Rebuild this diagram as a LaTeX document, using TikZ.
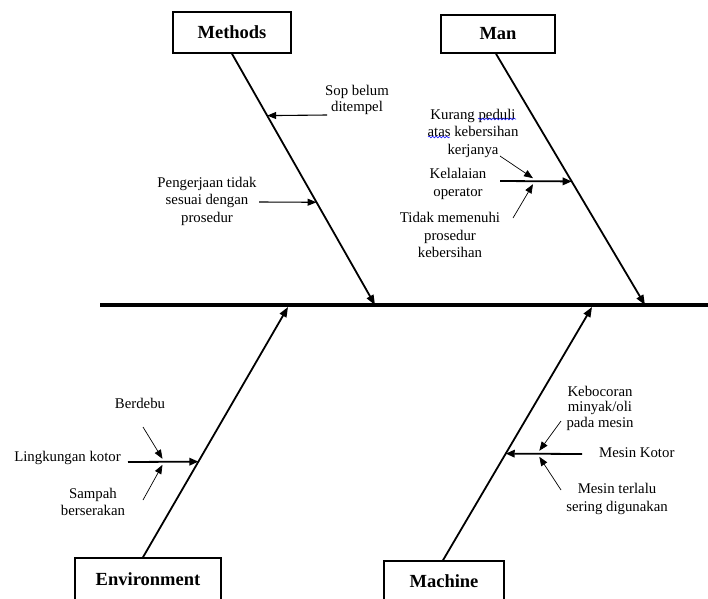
\documentclass[tikz,border=0pt]{standalone}
\usepackage{fontspec}
\setmainfont{Liberation Serif}
\usetikzlibrary{arrows.meta,calc,decorations.pathmorphing}

\tikzset{
  catbox/.style={draw, line width=1.6pt, inner sep=0pt,
    font=\fontsize{18.5}{20}\selectfont\bfseries},
  cause/.style={align=center, inner sep=0pt, font=\fontsize{14.8}{17.5}\selectfont},
  spine/.style={line width=3.5pt},
  bone/.style={line width=1.8pt, -{Triangle[length=10pt,width=7.5pt]}},
  branch/.style={line width=1.1pt, -{Triangle[length=9pt,width=7pt]}},
  twig/.style={line width=1.8pt, -{Triangle[length=9pt,width=7.5pt]}},
  leaf/.style={line width=0.7pt, -{Triangle[length=9pt,width=7pt]}},
  spell/.style={blue, line width=0.5pt, decorate,
    decoration={snake, amplitude=0.9pt, segment length=3.5pt}}
}

\begin{document}
\begin{tikzpicture}[x=1pt,y=-1pt]

    \useasboundingbox (0,0) rectangle (708,598);

    %head boxes
    \node[catbox, minimum width=118pt, minimum height=41pt] (methods) at (232,32.5) {Methods};
    \node[catbox, minimum width=114pt, minimum height=38pt] (man) at (498,34) {Man};
    \node[catbox, minimum width=146pt, minimum height=42pt] (env) at (148,579) {Environment};
    \node[catbox, minimum width=120pt, minimum height=40pt] (machine) at (444,581) {Machine};

    %spine
    \coordinate (spL) at (100,305);
    \coordinate (spR) at (708,305);
    \draw[spine] (spL) -- (spR);

    %bones
    \coordinate (mtip) at (375,305);
    \coordinate (ntip) at (645,305);
    \coordinate (etip) at (288,307);
    \coordinate (ctip) at (592,307);

    \draw[bone] (methods.south) ++(0,0) coordinate (mtop) -- (mtip);
    \draw[bone] (man.south) ++(-2,0) coordinate (ntop) -- (ntip);
    \draw[bone] (env.north) ++(-5,0) coordinate (ebot) -- (etip);
    \draw[bone] (machine.north) ++(-1,0) coordinate (cbot) -- (ctip);

    %Methods causes
    \node[cause, font=\fontsize{14.8}{15.5}\selectfont] (sop) at (357,100) {Sop belum\\ditempel};
    \coordinate (sopS) at (327,115);
    \draw[branch] (sopS) -- ($(mtop)!0.246!(mtip)$);

    \node[cause] (peng) at (207,201) {Pengerjaan tidak\\sesuai dengan\\prosedur};
    \coordinate (pengS) at (259,202);
    \draw[branch] (pengS) -- ($(mtop)!0.591!(mtip)$);

    %Man causes
    \node[cause] (kel) at (458,184) {Kelalaian\\operator};
    \coordinate (kelS) at (500,181);
    \coordinate (kelE) at ($(ntop)!0.508!(ntip)$);
    \draw[twig] (kelS) -- (kelE);
    \coordinate (kelJ) at ($(kelS)!0.46!(kelE)$);

    \node[cause] (kur) at (473,133) {Kurang peduli\\atas kebersihan\\kerjanya};
    \coordinate (kurS) at (500,156);
    \draw[leaf] (kurS) -- ([yshift=3pt]kelJ);
    \draw[spell] (478,119) -- (516,119);
    \draw[spell] (428,137) -- (450,137);

    \node[cause] (tid) at (450,235) {Tidak memenuhi\\prosedur\\kebersihan};
    \coordinate (tidS) at (513,218);
    \draw[leaf] (tidS) -- ([yshift=-3pt]kelJ);

    %Environment causes
    \node[cause, anchor=east] (ling) at (121,458) {Lingkungan kotor};
    \coordinate (lingS) at (128,462);
    \coordinate (lingE) at ($(ebot)!0.382!(etip)$);
    \draw[twig] (lingS) -- (lingE);
    \coordinate (lingJ) at ($(lingS)!0.49!(lingE)$);

    \node[cause] (deb) at (140,403) {Berdebu};
    \coordinate (debS) at (143,427);
    \draw[leaf] (debS) -- ([yshift=3pt]lingJ);

    \node[cause] (sam) at (93,502) {Sampah\\berserakan};
    \coordinate (samS) at (143,500);
    \draw[leaf] (samS) -- ([yshift=-3pt]lingJ);

    %Machine causes
    \node[cause, anchor=west] (mko) at (599,453) {Mesin Kotor};
    \coordinate (mkoS) at (582,454);
    \coordinate (mkoE) at ($(cbot)!0.421!(ctip)$);
    \draw[twig] (mkoS) -- (mkoE);
    \coordinate (mkoJ) at ($(mkoS)!0.56!(mkoE)$);

    \node[cause, font=\fontsize{14.8}{15.5}\selectfont] (bocor) at (600,408) {Kebocoran\\minyak/oli\\pada mesin};
    \coordinate (bocS) at (561,421);
    \draw[leaf] (bocS) -- ([yshift=3pt]mkoJ);

    \node[cause] (sering) at (617,499) {Mesin terlalu\\sering digunakan};
    \coordinate (serS) at (561,490);
    \draw[leaf] (serS) -- ([yshift=-3pt]mkoJ);

\end{tikzpicture}
\end{document}
